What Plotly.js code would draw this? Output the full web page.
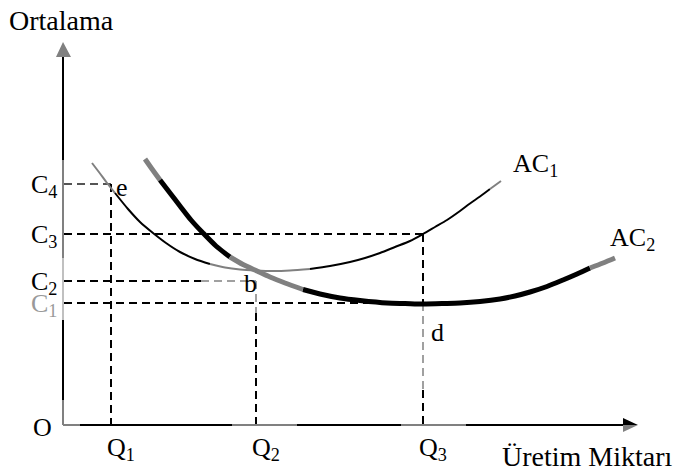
<!DOCTYPE html>
<html>
<head>
<meta charset="utf-8">
<script src="https://cdn.plot.ly/plotly-3.0.1.min.js"></script>
<style>html,body{margin:0;padding:0;background:#fff;}#chart{width:676px;height:468px;}</style>
</head>
<body>
<div id="chart"></div>
<script>
// Quantity levels (Q1, Q2, Q3) and cost levels (C1..C4), in chart units
const qLabels = ["Q<sub>1</sub>", "Q<sub>2</sub>", "Q<sub>3</sub>"];
const qValues = [47, 192, 359];
const cLabels = ["C<sub>1</sub>", "C<sub>2</sub>", "C<sub>3</sub>", "C<sub>4</sub>"];
const cValues = [122, 144, 191, 241];

// Average cost curve AC1
const ac1X = [28, 36, 43, 51, 64, 76, 89, 102, 116, 131, 146, 161, 176, 192, 209, 226,
              246, 266, 286, 301, 316, 331, 346, 359, 371, 383, 396, 406, 416, 426, 437];
const ac1Y = [262, 251.5, 242, 232, 216, 203, 192, 182, 173, 166, 161, 157.5, 155.5, 154.5, 154, 154.5,
              156, 159, 163, 167, 172, 178, 184, 191, 198, 205, 214, 221.5, 228.5, 236, 244];
// Average cost curve AC2
const ac2X = [81, 88, 96, 106, 116, 127, 139, 152, 166, 179, 193, 206, 221, 239, 256, 276,
              296, 323, 341, 359, 381, 396, 416, 436, 451, 466, 483, 499, 513, 526, 539, 551];
const ac2Y = [266, 256, 245, 232, 219, 205, 192, 179, 168, 160.5, 154, 148, 142, 135.5, 131, 127,
              124.5, 122, 121.5, 121, 121.5, 122, 123.5, 126, 129, 133, 138.5, 145, 151, 157, 162, 167];

const FONT = "Liberation Serif, Times New Roman, serif";
const FS = 26;
const BLACK = "#000000", GREY = "#808080", LGREY = "#a0a0a0";

const [Q1, Q2, Q3] = qValues;
const [C1, C2, C3, C4] = cValues;

function seg(xs, ys, i0, i1, color, width) {
  return {
    x: xs.slice(i0, i1 + 1), y: ys.slice(i0, i1 + 1),
    type: "scatter", mode: "lines",
    line: {color: color, width: width, shape: "spline", smoothing: 0.8},
    hoverinfo: "skip", showlegend: false
  };
}

const traces = [
  seg(ac1X, ac1Y, 0, 3, GREY, 2),
  seg(ac1X, ac1Y, 3, 10, BLACK, 2),
  seg(ac1X, ac1Y, 10, 16, GREY, 2),
  seg(ac1X, ac1Y, 16, 29, BLACK, 2),
  seg(ac1X, ac1Y, 29, 30, GREY, 2),
  seg(ac2X, ac2Y, 0, 2, GREY, 5),
  seg(ac2X, ac2Y, 2, 8, BLACK, 5),
  seg(ac2X, ac2Y, 8, 13, GREY, 5),
  seg(ac2X, ac2Y, 13, 29, BLACK, 5),
  seg(ac2X, ac2Y, 29, 31, GREY, 5)
];

function ln(x0, y0, x1, y1, color, width, dash) {
  return {type: "line", xref: "x", yref: "y", x0: x0, y0: y0, x1: x1, y1: y1,
          line: {color: color, width: width, dash: dash || "solid"}, layer: "below"};
}
const D = "8px,5px";
const shapes = [
  // guide lines
  ln(0, C4, Q1, C4, "#555555", 2, D),
  ln(Q1, C4, Q1, 0, BLACK, 2, D),
  ln(0, C3, Q3, C3, BLACK, 2, D),
  ln(Q3, C3, Q3, C1, BLACK, 2, D),
  ln(Q3, C1, Q3, 35, LGREY, 2, D),
  ln(Q3, 35, Q3, 0, BLACK, 2, D),
  ln(0, C2, Q2 - 55, C2, BLACK, 2, D),
  ln(Q2 - 55, C2, Q2, C2, LGREY, 2, D),
  ln(Q2, C2, Q2, C1 - 10, LGREY, 2, D),
  ln(Q2, C1 - 10, Q2, 0, BLACK, 2, D),
  ln(0, C1, Q3, C1, BLACK, 2, D),
  // y axis
  ln(-1, 368, -1, 265, BLACK, 2),
  ln(-1, 265, -1, 167, GREY, 2),
  ln(-1, 167, -1, 105, "#c0c0c0", 2),
  ln(-1, 105, -1, 25, BLACK, 2),
  ln(-1, 25, -1, 0, GREY, 2),
  // x axis
  ln(-1, 0, 16, 0, GREY, 2),
  ln(16, 0, 168, 0, BLACK, 2),
  ln(168, 0, 233, 0, GREY, 2),
  ln(233, 0, 337, 0, BLACK, 2),
  ln(337, 0, 402, 0, GREY, 2),
  ln(402, 0, 560, 0, BLACK, 2),
  // arrowheads
  {type: "path", xref: "x", yref: "y", path: "M -1 383 L -8 368 L 7 368 Z",
   fillcolor: GREY, line: {width: 0}},
  {type: "path", xref: "x", yref: "y", path: "M 574 0 L 559 7 L 559 0 Z",
   fillcolor: BLACK, line: {width: 0}},
  {type: "path", xref: "x", yref: "y", path: "M 574 0 L 559 -7 L 559 0 Z",
   fillcolor: GREY, line: {width: 0}}
];

function txt(x, y, text, opts) {
  return Object.assign({x: x, y: y, xref: "x", yref: "y", text: text, showarrow: false,
    font: {family: FONT, size: FS, color: BLACK}, xanchor: "center", yanchor: "middle"}, opts || {});
}
const annotations = [
  txt(-57, 405, "Ortalama", {xanchor: "left", font: {family: FONT, size: 28, color: BLACK}}),
  txt(436, -31, "Üretim Miktarı", {xanchor: "left", font: {family: FONT, size: 28, color: BLACK}}),
  txt(-22, -2, "O"),
  txt(Q1 + 11, C4 - 3, "e"),
  txt(Q2 - 6, C2 - 2, "b"),
  txt(Q3 + 14, 93, "d"),
  txt(471, 260, "AC<sub>1</sub>"),
  txt(568, 186, "AC<sub>2</sub>")
];
qLabels.forEach((t, i) => annotations.push(txt(qValues[i] - 6, -24, t, {xanchor: "left"})));
cLabels.forEach((t, i) => annotations.push(txt(-5, cValues[i] - 2, t, {xanchor: "right",
  font: {family: FONT, size: FS, color: i === 0 ? "#999999" : BLACK}})));

const layout = {
  width: 676, height: 468,
  margin: {l: 0, r: 0, t: 0, b: 0},
  paper_bgcolor: "#ffffff", plot_bgcolor: "#ffffff",
  xaxis: {range: [-64, 612], visible: false, fixedrange: true},
  yaxis: {range: [-43, 425], visible: false, fixedrange: true},
  shapes: shapes,
  annotations: annotations,
  showlegend: false
};
Plotly.newPlot("chart", traces, layout, {displayModeBar: false, staticPlot: true});
</script>
</body>
</html>
